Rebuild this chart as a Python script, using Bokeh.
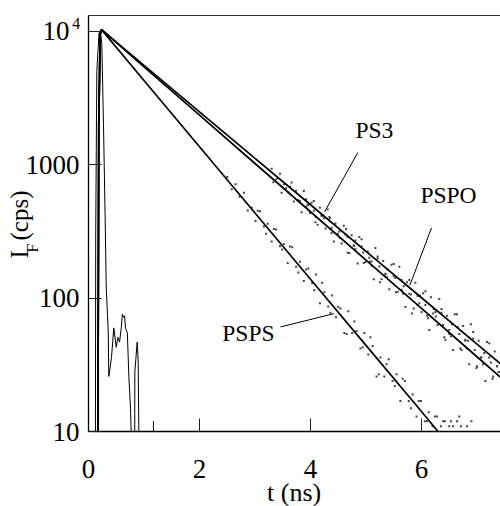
import math
from bokeh.plotting import figure
from bokeh.models import FixedTicker, Label, LinearAxis, Range1d, ColumnDataSource
from bokeh.embed import file_html
from bokeh.resources import INLINE

FONT = "Liberation Serif"
nan = float("nan")

# ---------------- data ----------------
x_ticks = [0, 2, 4, 6]
y_ticks = [10, 100, 1000, 10000]
y_tick_labels = {10: "10", 100: "100", 1000: "1000", 10000: ""}
y_top_base, y_top_exp = "10", "4"

# plotted box: t from 0 to 7.423 ns, counts from 10 to 13120
t_min, t_max = 0.0, 7.4234
i_min, i_max = 10, 13120

# fitted decay curves
fit_ps3_t = [0.17, 0.185, 0.21, 0.235, 1, 2, 3, 4, 5, 6, 7, 7.5]
fit_ps3_i = [10, 2000, 9500, 10300, 5560, 2495, 1119, 502, 225, 101, 45.4, 30.4]
fit_pspo_t = [0.17, 0.185, 0.21, 0.235, 1, 2, 3, 4, 5, 6, 7, 7.5]
fit_pspo_i = [10, 2000, 9500, 10300, 5420, 2355, 1023, 445, 193, 84, 36.5, 24.0]
fit_psps_t = [0.17, 0.185, 0.21, 0.235, 1, 2, 3, 4, 5, 6, 6.30]
fit_psps_i = [10, 2000, 9500, 10300, 4276, 1365, 436, 139, 44.4, 14.2, 10]

# instrument response (nan = trace below the axis)
irf_t = [0.125, 0.13, 0.15, 0.19, 0.215, 0.24, 0.27, 0.30, 0.32, 0.355, 0.366,
         0.414, 0.456, 0.50, 0.53, 0.56, 0.59, 0.61, 0.63, 0.65, 0.667, 0.70, 0.727,
         0.757, 0.769, nan, 0.833, 0.835, 0.877, 0.895, 0.907, nan, 1.17, 1.17]
irf_i = [10, 300, 5000, 9800, 10000, 8000, 2000, 400, 119, 57, 26,
         36, 60, 43, 51, 47, 60, 76, 72, 74, 60, 55, 26,
         15, 10, nan, 10, 28, 47, 34, 10, nan, 10, 12]

# measured counts (noisy points)
pts_ps3_t = [3.30, 3.38, 3.45, 3.52, 3.60, 3.66, 3.74, 3.81, 3.88, 3.95, 4.02, 4.10,
             4.17, 4.24, 4.31, 4.38, 4.45, 4.53, 4.60, 4.67, 4.74, 4.81, 4.88, 4.95,
             5.03, 5.10, 5.17, 5.24, 5.31, 5.38, 5.46, 5.53, 5.60, 5.67, 5.74, 5.81,
             5.89, 5.96, 6.03, 6.10, 6.17, 6.25, 6.32, 6.39, 6.46, 6.53, 6.60, 6.68,
             6.75, 6.82, 6.89, 6.96, 7.03, 7.11, 7.18, 7.25, 7.32, 7.39,
             3.92, 4.06, 4.20, 4.34, 4.49, 4.64, 4.78, 4.92, 5.07, 5.21, 5.35, 5.50,
             5.64, 5.78, 5.93, 6.07, 6.21, 6.36, 6.50, 6.64, 6.79, 6.93, 7.07, 7.22, 7.36]
pts_ps3_i = [934, 776, 858, 716, 623, 738, 638, 538, 636, 497, 519, 407,
             477, 398, 463, 338, 364, 283, 350, 288, 297, 233, 288, 220,
             224, 175, 238, 173, 190, 144, 178, 142, 172, 108, 132, 107,
             131, 92, 109, 74, 102, 79, 99, 63, 74, 52, 76, 54,
             62, 42, 64, 41, 48, 32, 47, 33, 40, 28,
             482, 536, 415, 406, 302, 331, 250, 277, 188, 206, 153, 181,
             116, 137, 89, 113, 77, 83, 54, 76, 49, 56, 36, 46, 31]
pts_pspo_t = [3.33, 3.41, 3.48, 3.56, 3.63, 3.70, 3.77, 3.84, 3.92, 3.99, 4.06, 4.13,
              4.20, 4.27, 4.35, 4.42, 4.49, 4.56, 4.63, 4.70, 4.78, 4.85, 4.92, 4.99,
              5.06, 5.14, 5.21, 5.28, 5.35, 5.42, 5.50, 5.57, 5.64, 5.71, 5.78, 5.86,
              5.93, 6.00, 6.07, 6.14, 6.22, 6.29, 6.36, 6.43, 6.50, 6.57, 6.65, 6.72,
              6.79, 6.86, 6.93, 7.00, 7.08, 7.15, 7.22, 7.29, 7.36,
              3.95, 4.09, 4.23, 4.38, 4.52, 4.67, 4.81, 4.96, 5.10, 5.25, 5.39, 5.54,
              5.68, 5.83, 5.97, 6.12, 6.26, 6.41, 6.55, 6.70, 6.84, 6.99, 7.13, 7.28, 7.42]
pts_pspo_i = [739, 794, 617, 668, 684, 531, 544, 442, 551, 435, 453, 355,
              418, 334, 398, 266, 305, 257, 300, 218, 246, 182, 244, 187,
              201, 139, 199, 139, 151, 117, 146, 112, 137, 86, 108, 84,
              104, 79, 89, 58, 83, 63, 78, 49, 58, 41, 61, 41,
              48, 32, 50, 31, 36, 24, 36, 26, 31,
              501, 372, 418, 308, 317, 219, 271, 184, 189, 132, 164, 111,
              123, 77, 105, 71, 73, 51, 64, 42, 48, 30, 39, 25, 28]
pts_psps_t = [2.50, 2.58, 2.65, 2.72, 2.80, 2.87, 2.94, 3.01, 3.09, 3.16, 3.23, 3.30,
              3.38, 3.45, 3.52, 3.59, 3.67, 3.74, 3.81, 3.88, 3.96, 4.03, 4.10, 4.17,
              4.25, 4.32, 4.39, 4.46, 4.54, 4.61, 4.68, 4.75, 4.83, 4.90, 4.97, 5.04,
              5.12, 5.19, 5.26, 5.33, 5.41, 5.48, 5.55, 5.62, 5.70, 5.77, 5.84, 5.91,
              5.99, 6.06, 6.13, 6.20, 6.28, 6.35, 6.42, 6.50, 6.57, 6.64, 6.71,
              3.05, 3.20, 3.34, 3.49, 3.63, 3.78, 3.92, 4.07, 4.21, 4.36, 4.50, 4.65,
              4.79, 4.94, 5.08, 5.23, 5.37, 5.52, 5.66, 5.81, 5.95, 6.10, 6.24, 6.39,
              6.53, 6.68, 6.82, 6.90]
pts_psps_i = [810, 655, 715, 576, 618, 455, 476, 379, 448, 345, 362, 266,
              327, 245, 255, 184, 241, 172, 188, 135, 167, 130, 151, 92,
              111, 87, 105, 72, 84, 55, 80, 55, 57, 42, 55, 38,
              44, 26, 36, 26, 35, 24, 27, 17, 24, 17, 19, 13,
              17, 12, 14, 11, 13, 11, 12, 11, 11, 12, 11,
              452, 305, 330, 232, 244, 156, 164, 115, 131, 78, 86, 54,
              67, 43, 51, 27, 32, 22, 25, 15, 17, 12, 13, 12,
              12, 13, 11, 12]

# annotation texts and leader lines (data coordinates)
label_texts = ["PS3", "PSPO", "PSPS"]
label_t = [4.81, 5.98, 2.41]
label_i = [1827, 596, 55.1]
lead_t0 = [4.852, 6.18, 3.46]
lead_i0 = [1234, 336.5, 61]
lead_t1 = [4.252, 5.79, 4.42]
lead_i1 = [443, 125, 76.7]

# axis titles and the 10^4 tick label (data coordinates outside the plotted box)
x_title, x_title_t, x_title_i = "t (ns)", 3.706, 3.535
y_title_main, y_main_t, y_main_i = "I", -1.238, 198.6
y_title_sub, y_sub_t, y_sub_i = "F", -1.005, 220.3
y_title_unit, y_unit_t, y_unit_i = "(cps)", -1.238, 271
base_t, base_i = -0.342, 10000
exp_t, exp_i = -0.295, 11500

# ---------------- figure ----------------
# the frame fills the whole canvas; the axes are drawn at fixed locations
p = figure(width=500, height=506, x_range=Range1d(-1.5856, 7.4234),
           y_range=Range1d(2.7573, 17012), y_axis_type="log",
           output_backend="svg", toolbar_location=None,
           min_border_left=0, min_border_right=0, min_border_top=0, min_border_bottom=0)
p.outline_line_color = None
p.xgrid.visible = False
p.ygrid.visible = False
p.background_fill_color = "white"

xa = p.xaxis[0]
ya = p.yaxis[0]
for ax in (xa, ya):
    ax.axis_line_color = "black"
    ax.axis_line_width = 1.3
    ax.major_tick_in = 13
    ax.major_tick_out = 0
    ax.major_tick_line_color = "#222222"
    ax.major_tick_line_width = 1
    ax.minor_tick_line_color = None
    ax.major_label_text_font = FONT
    ax.major_label_text_font_size = "27px"
    ax.major_label_text_color = "black"

xa.fixed_location = i_min
xa.bounds = (t_min, t_max)
xa.ticker = FixedTicker(ticks=x_ticks)
xa.major_label_standoff = 28
ya.fixed_location = t_min
ya.bounds = (i_min, i_max)
ya.ticker = FixedTicker(ticks=y_ticks)
ya.major_label_overrides = y_tick_labels
ya.major_label_standoff = 9

top = LinearAxis(ticker=FixedTicker(ticks=x_ticks), fixed_location=i_max,
                 bounds=(t_min, t_max), axis_line_color="#333333",
                 axis_line_width=1.2, major_tick_line_color=None, major_tick_in=0,
                 major_tick_out=0, minor_tick_line_color=None,
                 major_label_text_font_size="1px", major_label_text_color=None,
                 major_label_standoff=0)
p.add_layout(top, "above")

# data points
for tt, ii in ((pts_ps3_t, pts_ps3_i), (pts_pspo_t, pts_pspo_i), (pts_psps_t, pts_psps_i)):
    p.scatter(tt, ii, marker="square", size=2, color="#444444", line_color=None)

# IRF
p.line(irf_t, irf_i, line_color="black", line_width=1)

# fits
for tt, ii in ((fit_ps3_t, fit_ps3_i), (fit_pspo_t, fit_pspo_i), (fit_psps_t, fit_psps_i)):
    p.line(tt, ii, line_color="black", line_width=1.7)

# leader lines
lead = ColumnDataSource(dict(x0=lead_t0, y0=lead_i0, x1=lead_t1, y1=lead_i1))
p.segment("x0", "y0", "x1", "y1", source=lead, line_color="black", line_width=1)

def add_text(text, x, y, size, angle=0.0, align="left", baseline="alphabetic"):
    p.add_layout(Label(x=x, y=y, text=text, angle=angle, text_font=FONT,
                       text_font_size=size, text_align=align,
                       text_baseline=baseline, text_color="black"))

for txt, tx, ty in zip(label_texts, label_t, label_i):
    add_text(txt, tx, ty, "23.5px")

add_text(y_top_base, base_t, base_i, "27px", align="right", baseline="middle")
add_text(y_top_exp, exp_t, exp_i, "16px")
add_text(x_title, x_title_t, x_title_i, "26px", align="center")
add_text(y_title_main, y_main_t, y_main_i, "25px", angle=math.pi / 2)
add_text(y_title_sub, y_sub_t, y_sub_i, "16px", angle=math.pi / 2)
add_text(y_title_unit, y_unit_t, y_unit_i, "25px", angle=math.pi / 2)

open("out.html", "w").write(file_html(p, INLINE))
